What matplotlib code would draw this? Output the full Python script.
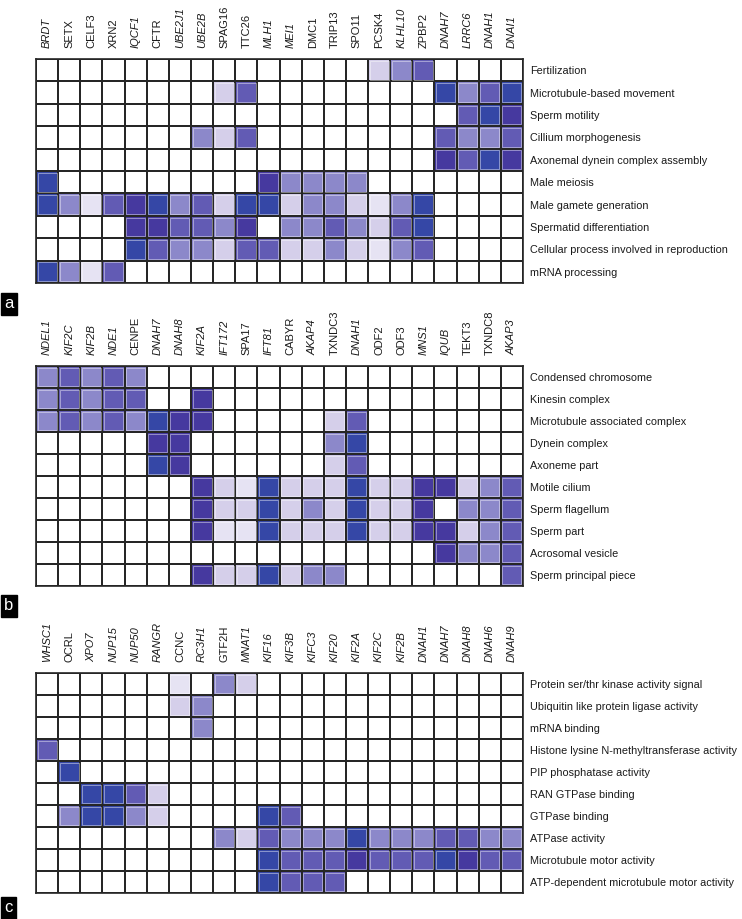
import numpy as np
import matplotlib.pyplot as plt
from matplotlib.colors import ListedColormap, BoundaryNorm
from matplotlib.patches import Rectangle

plt.rcParams['font.family'] = ['Liberation Sans', 'DejaVu Sans']

# ----- panel a : biological process -----
genes_a = ['BRDT', 'SETX', 'CELF3', 'XRN2', 'IQCF1', 'CFTR', 'UBE2J1', 'UBE2B', 'SPAG16', 'TTC26', 'MLH1',
           'MEI1', 'DMC1', 'TRIP13', 'SPO11', 'PCSK4', 'KLHL10', 'ZPBP2', 'DNAH7', 'LRRC6', 'DNAH1', 'DNAI1']
upright_a = ['SETX', 'CELF3', 'XRN2', 'CFTR', 'SPAG16', 'TTC26', 'DMC1', 'TRIP13', 'SPO11', 'PCSK4', 'ZPBP2']
terms_a = ['Fertilization', 'Microtubule-based movement', 'Sperm motility', 'Cillium morphogenesis',
           'Axonemal dynein complex assembly', 'Male meiosis', 'Male gamete generation',
           'Spermatid differentiation', 'Cellular process involved in reproduction', 'mRNA processing']
# shade level 0 (white) .. 6 (dark blue)
vals_a = [
    [0, 0, 0, 0, 0, 0, 0, 0, 0, 0, 0, 0, 0, 0, 0, 2, 3, 4, 0, 0, 0, 0],
    [0, 0, 0, 0, 0, 0, 0, 0, 2, 4, 0, 0, 0, 0, 0, 0, 0, 0, 6, 3, 4, 6],
    [0, 0, 0, 0, 0, 0, 0, 0, 0, 0, 0, 0, 0, 0, 0, 0, 0, 0, 0, 4, 6, 5],
    [0, 0, 0, 0, 0, 0, 0, 3, 2, 4, 0, 0, 0, 0, 0, 0, 0, 0, 4, 3, 3, 4],
    [0, 0, 0, 0, 0, 0, 0, 0, 0, 0, 0, 0, 0, 0, 0, 0, 0, 0, 5, 4, 6, 5],
    [6, 0, 0, 0, 0, 0, 0, 0, 0, 0, 5, 3, 3, 3, 3, 0, 0, 0, 0, 0, 0, 0],
    [6, 3, 1, 4, 5, 6, 3, 4, 2, 6, 6, 2, 3, 3, 2, 1, 3, 6, 0, 0, 0, 0],
    [0, 0, 0, 0, 5, 5, 4, 4, 3, 5, 0, 3, 3, 4, 3, 2, 4, 6, 0, 0, 0, 0],
    [0, 0, 0, 0, 6, 4, 3, 3, 2, 4, 4, 2, 2, 3, 2, 1, 3, 4, 0, 0, 0, 0],
    [6, 3, 1, 4, 0, 0, 0, 0, 0, 0, 0, 0, 0, 0, 0, 0, 0, 0, 0, 0, 0, 0],
]

# ----- panel b : cellular component -----
genes_b = ['NDEL1', 'KIF2C', 'KIF2B', 'NDE1', 'CENPE', 'DNAH7', 'DNAH8', 'KIF2A', 'IFT172', 'SPA17', 'IFT81',
           'CABYR', 'AKAP4', 'TXNDC3', 'DNAH1', 'ODF2', 'ODF3', 'MNS1', 'IQUB', 'TEKT3', 'TXNDC8', 'AKAP3']
upright_b = ['CENPE', 'SPA17', 'CABYR', 'TXNDC3', 'ODF2', 'ODF3', 'TEKT3', 'TXNDC8']
terms_b = ['Condensed chromosome', 'Kinesin complex', 'Microtubule associated complex', 'Dynein complex',
           'Axoneme part', 'Motile cilium', 'Sperm flagellum', 'Sperm part', 'Acrosomal vesicle',
           'Sperm principal piece']
vals_b = [
    [3, 4, 3, 4, 3, 0, 0, 0, 0, 0, 0, 0, 0, 0, 0, 0, 0, 0, 0, 0, 0, 0],
    [3, 4, 3, 4, 4, 0, 0, 5, 0, 0, 0, 0, 0, 0, 0, 0, 0, 0, 0, 0, 0, 0],
    [3, 4, 3, 4, 3, 6, 5, 5, 0, 0, 0, 0, 0, 2, 4, 0, 0, 0, 0, 0, 0, 0],
    [0, 0, 0, 0, 0, 5, 5, 0, 0, 0, 0, 0, 0, 3, 6, 0, 0, 0, 0, 0, 0, 0],
    [0, 0, 0, 0, 0, 6, 5, 0, 0, 0, 0, 0, 0, 2, 4, 0, 0, 0, 0, 0, 0, 0],
    [0, 0, 0, 0, 0, 0, 0, 5, 2, 1, 6, 2, 2, 2, 6, 2, 2, 5, 5, 2, 3, 4],
    [0, 0, 0, 0, 0, 0, 0, 5, 2, 2, 6, 2, 3, 2, 6, 2, 2, 5, 0, 3, 3, 4],
    [0, 0, 0, 0, 0, 0, 0, 5, 1, 1, 6, 2, 2, 2, 6, 2, 2, 5, 5, 2, 3, 4],
    [0, 0, 0, 0, 0, 0, 0, 0, 0, 0, 0, 0, 0, 0, 0, 0, 0, 0, 5, 3, 3, 4],
    [0, 0, 0, 0, 0, 0, 0, 5, 2, 2, 6, 2, 3, 3, 0, 0, 0, 0, 0, 0, 0, 4],
]

# ----- panel c : molecular function -----
genes_c = ['WHSC1', 'OCRL', 'XPO7', 'NUP15', 'NUP50', 'RANGR', 'CCNC', 'RC3H1', 'GTF2H', 'MNAT1', 'KIF16',
           'KIF3B', 'KIFC3', 'KIF20', 'KIF2A', 'KIF2C', 'KIF2B', 'DNAH1', 'DNAH7', 'DNAH8', 'DNAH6', 'DNAH9']
upright_c = ['OCRL', 'CCNC', 'GTF2H']
terms_c = ['Protein ser/thr kinase activity signal', 'Ubiquitin like protein ligase activity', 'mRNA binding',
           'Histone lysine N-methyltransferase activity', 'PIP phosphatase activity', 'RAN GTPase binding',
           'GTPase binding', 'ATPase activity', 'Microtubule motor activity',
           'ATP-dependent microtubule motor activity']
vals_c = [
    [0, 0, 0, 0, 0, 0, 1, 0, 3, 2, 0, 0, 0, 0, 0, 0, 0, 0, 0, 0, 0, 0],
    [0, 0, 0, 0, 0, 0, 2, 3, 0, 0, 0, 0, 0, 0, 0, 0, 0, 0, 0, 0, 0, 0],
    [0, 0, 0, 0, 0, 0, 0, 3, 0, 0, 0, 0, 0, 0, 0, 0, 0, 0, 0, 0, 0, 0],
    [4, 0, 0, 0, 0, 0, 0, 0, 0, 0, 0, 0, 0, 0, 0, 0, 0, 0, 0, 0, 0, 0],
    [0, 6, 0, 0, 0, 0, 0, 0, 0, 0, 0, 0, 0, 0, 0, 0, 0, 0, 0, 0, 0, 0],
    [0, 0, 6, 6, 4, 2, 0, 0, 0, 0, 0, 0, 0, 0, 0, 0, 0, 0, 0, 0, 0, 0],
    [0, 3, 6, 6, 3, 2, 0, 0, 0, 0, 6, 4, 0, 0, 0, 0, 0, 0, 0, 0, 0, 0],
    [0, 0, 0, 0, 0, 0, 0, 0, 3, 2, 4, 3, 3, 3, 6, 3, 3, 3, 4, 4, 3, 3],
    [0, 0, 0, 0, 0, 0, 0, 0, 0, 0, 6, 4, 4, 4, 5, 4, 4, 4, 6, 5, 4, 4],
    [0, 0, 0, 0, 0, 0, 0, 0, 0, 0, 6, 4, 4, 4, 0, 0, 0, 0, 0, 0, 0, 0],
]

# shades from white to dark blue
shades = ['#ffffff', '#e6e3f3', '#d5cfea', '#8c88ca', '#625bb4', '#46399f', '#3547a6']
cmap = ListedColormap(shades)
norm = BoundaryNorm(np.arange(-0.5, len(shades) + 0.5, 1), len(shades))

fig = plt.figure(figsize=(7.42, 9.19), dpi=100)
W, H = 742.0, 919.0


def draw_panel(top_px, bottom_px, genes, upright, terms, vals, letter, letter_y):
    ax = fig.add_axes([36 / W, 1 - bottom_px / H, (523 - 36) / W, (bottom_px - top_px) / H])
    data = np.array(vals)
    nr, nc = data.shape
    ax.pcolormesh(np.arange(nc + 1), np.arange(nr + 1), data, cmap=cmap, norm=norm,
                  edgecolor='#262626', linewidth=1.2)
    # thin white inner edge on the coloured cells
    for r in range(nr):
        for c in range(nc):
            if data[r, c] > 0:
                ax.add_patch(Rectangle((c + 0.07, r + 0.08), 0.86, 0.84, fill=False,
                                       edgecolor='white', linewidth=0.5, alpha=0.6))
    ax.set_xlim(0, nc)
    ax.set_ylim(nr, 0)

    ax.xaxis.tick_top()
    ax.set_xticks(np.arange(nc) + 0.5)
    ax.set_xticklabels(genes, rotation=90, fontsize=8, color='#1a1a1a')
    for lab in ax.get_xticklabels():
        if lab.get_text() not in upright:
            lab.set_fontstyle('italic')
    ax.yaxis.tick_right()
    ax.set_yticks(np.arange(nr) + 0.5)
    ax.set_yticklabels(terms, fontsize=7.8, color='#1a1a1a')
    ax.tick_params(axis='x', length=0, pad=8)
    ax.tick_params(axis='y', length=0, pad=5)
    for s in ax.spines.values():
        s.set_linewidth(1.2)
        s.set_color('#262626')

    # panel letter in a black box
    fig.text(4 / W, 1 - letter_y / H, letter, color='white', fontsize=12, va='center', ha='left',
             bbox=dict(facecolor='black', edgecolor='black', boxstyle='square,pad=0.2'))
    return ax


draw_panel(59, 283, genes_a, upright_a, terms_a, vals_a, 'a', 304)
draw_panel(366, 586, genes_b, upright_b, terms_b, vals_b, 'b', 606)
draw_panel(673, 893, genes_c, upright_c, terms_c, vals_c, 'c', 908)

plt.savefig('out.png', dpi=100)
